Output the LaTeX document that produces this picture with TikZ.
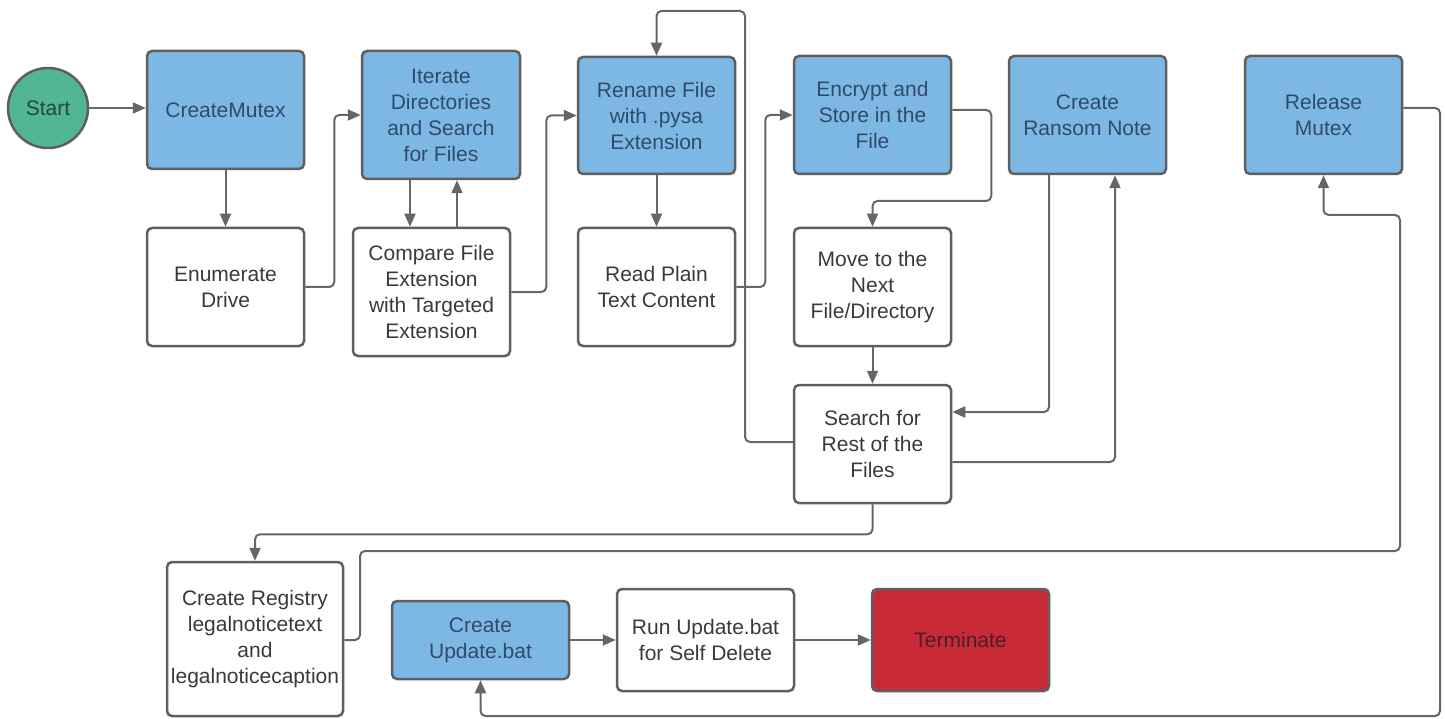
\documentclass[tikz,border=0pt]{standalone}
\usepackage{fontspec}
\setmainfont{Liberation Sans}
\usetikzlibrary{arrows.meta}
\definecolor{boxblue}{HTML}{7DB8E5}
\definecolor{startgreen}{HTML}{52B595}
\definecolor{termred}{HTML}{C92A38}
\definecolor{edgegray}{HTML}{5F5F5F}
\definecolor{linegray}{HTML}{666666}
\definecolor{bluetext}{HTML}{2F4B68}
\definecolor{graytext}{HTML}{3A3A3A}
\definecolor{greentext}{HTML}{23493D}
\definecolor{redtext}{HTML}{4A2025}
\begin{document}
\begin{tikzpicture}[x=1pt,y=-1pt,
 box/.style={draw=edgegray, line width=2.5pt, rounded corners=5pt, inner sep=0pt, align=center, font=\fontsize{21}{26}\selectfont, text=graytext},
 bluebox/.style={box, fill=boxblue, text=bluetext},
 whitebox/.style={box, fill=white},
 conn/.style={draw=linegray, line width=2pt, rounded corners=5pt, -{Triangle[length=13pt,width=11pt]}},
]
\useasboundingbox (0,0) rectangle (1445,719);
\node[circle, draw=edgegray, line width=2.5pt, fill=startgreen, minimum size=80pt, inner sep=0pt, font=\fontsize{21}{26}\selectfont, text=greentext] (start) at (48,108) {Start};
\node[bluebox, minimum width=157pt, minimum height=118pt] (cm) at (225.5,110) {CreateMutex};
\node[whitebox, minimum width=157pt, minimum height=118pt] (enum) at (225.5,287) {Enumerate\\Drive};
\node[bluebox, minimum width=158pt, minimum height=128pt] (iter) at (441,115) {Iterate\\Directories\\and Search\\for Files};
\node[whitebox, minimum width=157pt, minimum height=128pt] (comp) at (431.5,292) {Compare File\\Extension\\with Targeted\\Extension};
\node[bluebox, minimum width=157pt, minimum height=117pt] (ren) at (656.5,115.5) {Rename File\\with .pysa\\Extension};
\node[whitebox, minimum width=157pt, minimum height=118pt] (read) at (656.5,287) {Read Plain\\Text Content};
\node[bluebox, minimum width=157pt, minimum height=118pt] (enc) at (872.5,115) {Encrypt and\\Store in the\\File};
\node[whitebox, minimum width=157pt, minimum height=118pt] (move) at (872.5,287) {Move to the\\Next\\File/Directory};
\node[whitebox, minimum width=157pt, minimum height=118pt] (search) at (872.5,444) {Search for\\Rest of the\\Files};
\node[bluebox, minimum width=157pt, minimum height=118pt] (ransom) at (1087.5,115) {Create\\Ransom Note};
\node[bluebox, minimum width=157pt, minimum height=118pt] (release) at (1323.5,115) {Release\\Mutex};
\node[whitebox, minimum width=176pt, minimum height=154pt] (reg) at (255,639) {Create Registry\\legalnoticetext\\and\\legalnoticecaption};
\node[bluebox, minimum width=177pt, minimum height=78pt] (upd) at (480.5,640) {Create\\Update.bat};
\node[whitebox, minimum width=177pt, minimum height=102pt] (run) at (705.5,640) {Run Update.bat\\for Self Delete};
\node[box, fill=termred, text=redtext, minimum width=177pt, minimum height=102pt] (term) at (960.5,640) {Terminate};

\draw[conn] (start.east) -- (start.east -| cm.west);
\draw[conn] (cm) -- (enum);
\draw[conn] (enum.east) -- ++(29,0) |- (iter.west);
\draw[conn] (410,0 |- iter.south) -- (410,0 |- comp.north);
\draw[conn] (457,0 |- comp.north) -- (457,0 |- iter.south);
\draw[conn] (comp.east) -- ++(35,0) |- (ren.west);
\draw[conn] (ren) -- (read);
\draw[conn] (read.east) -- ++(29,0) |- (enc.west);
\draw[conn] (enc.east |- 0,110) -- ++(39,0) -- ++(0,91) -| (move.north);
\draw[conn] (move) -- (search);
\draw[conn] (1049,0 |- ransom.south) |- (search.east |- 0,412);
\draw[conn] (search.east |- 0,462) -| (1115,0 |- ransom.south);
\draw[conn] (search.west |- 0,442) -- (745,442) |- (656.5,11) -- (ren.north);
\draw[conn] (search.south) -- ++(0,30) -| (reg.north);
\draw[conn] (reg.east |- 0,640) -- (360,640) |- (1400,551) |- (release.south |- 0,215) -- (release.south);
\draw[conn] (release.east |- 0,108) -- (1440,108) |- (upd.south |- 0,716) -- (upd.south);
\draw[conn] (upd) -- (run);
\draw[conn] (run) -- (term);
\end{tikzpicture}
\end{document}
